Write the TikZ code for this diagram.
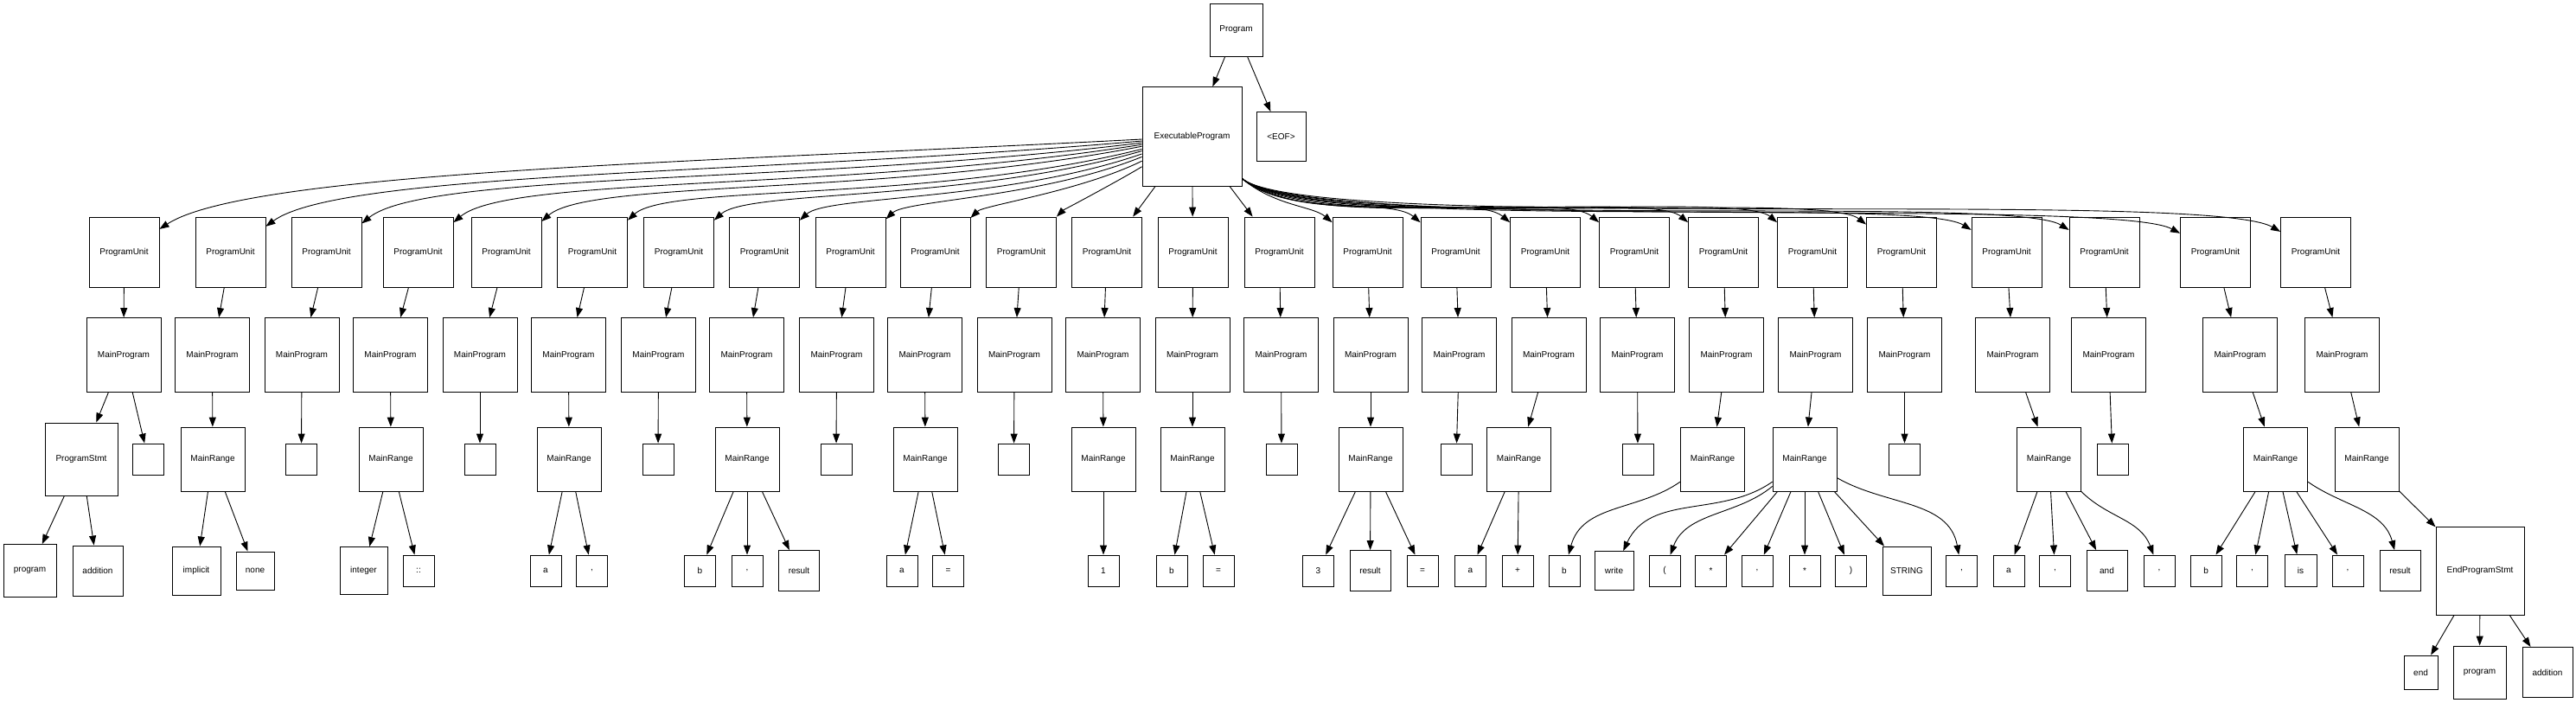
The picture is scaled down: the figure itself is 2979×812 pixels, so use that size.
\documentclass[tikz,border=0pt]{standalone}
\usepackage{fontspec}
\setmainfont{Liberation Sans}
\usetikzlibrary{arrows.meta}

\tikzset{
  tok/.style={draw, line width=0.9pt, minimum size=#1, inner sep=0pt, font=\fontsize{10}{12}\selectfont},
  tok/.default=36,
  edge/.style={line width=0.9pt, -{Triangle[length=11pt,width=8pt]}}
}

\begin{document}
\begin{tikzpicture}[x=1pt, y=1pt]
\useasboundingbox (0,0) rectangle (2979,-812);

\node[tok=61] (prog) at (1429.5,-34.5) {Program};
\node[tok=115] (exec) at (1378.5,-158) {ExecutableProgram};
\node[tok=57] (eof) at (1481.5,-158) {<EOF>};
\draw[edge] (prog) -- (exec);
\draw[edge] (prog) -- (eof);

\foreach \i/\u/\m in {1/143.5/143, 2/266.5/245.5, 3/377.5/349, 4/483.5/451.5, 5/585.5/555, 6/685/657.5, 7/785/761.5, 8/884/863.5, 9/983.5/967.5, 10/1081.5/1069.5, 11/1181/1173, 12/1280/1275.5, 13/1379.5/1379, 14/1479.5/1481.5, 15/1581.5/1585, 16/1683.5/1687.5, 17/1787/1791, 18/1890/1893.5, 19/1993/1996.5, 20/2096/2099.5, 21/2199/2202.5, 22/2320.5/2327.5, 23/2433.5/2438.5, 24/2562/2590.5, 25/2678/2708.5}{
  \node[tok=81] (unit\i) at (\u,-291.5) {ProgramUnit};
  \node[tok=86] (main\i) at (\m,-410.5) {MainProgram};
  \draw[edge] (unit\i) -- (main\i);
}

\foreach \i/\o/\n/\d/\e in {1/183/33/557/172, 2/185/36/503/159, 3/187/39/454/148, 4/189/40/408/138, 5/191/41/363/128, 6/194/42/319/118, 7/196/42/275/108, 8/199/42/231/98, 9/202/43/188/88, 10/206/44/145/78, 11/211/45/101/68}{
  \draw[edge] (exec) .. controls +(\o:\d) and +(\n:\e) .. (unit\i);
}
\foreach \i in {12,13,14}{
  \draw[edge] (exec) -- (unit\i);
}
\foreach \i/\n/\d/\e in {15/140/125/83, 16/140/145/98, 17/140/165/108, 18/140/175/113, 19/140/175/113, 20/140/175/113, 21/142/175/118, 22/148/175/123, 23/148/175/128, 24/152/175/138, 25/150/175/148}{
  \draw[edge] (exec) .. controls +(-40:\d) and +(\n:\e) .. (unit\i);
}

\node[tok=84] (stmt) at (94,-531) {ProgramStmt};
\draw[edge] (main1) -- (stmt);
\foreach \i/\x in {2/246, 4/452, 6/658, 8/864, 10/1070, 12/1276, 13/1379, 15/1585, 17/1756.5, 19/1980.5, 20/2087, 22/2369.5, 24/2631.5, 25/2737}{
  \node[tok=74] (range\i) at (\x,-531) {MainRange};
  \draw[edge] (main\i) -- (range\i);
}
\foreach \i/\x in {1/171.5, 3/348.5, 5/555, 7/761, 9/967, 11/1172.5, 14/1482, 16/1684, 18/1894, 21/2202.5, 23/2443}{
  \node[tok] (empty\i) at (\x,-531) {};
  \draw[edge] (main\i) -- (empty\i);
}

\foreach \p/\k/\x/\s/\t in {stmt/a/34.5/61/program, stmt/b/113/58/addition, range2/a/227/56/implicit, range2/b/295/44/none, range4/a/420.5/55/integer, range4/b/484/36/::, range6/a/631/36/a, range6/b/684.5/36/{,}, range8/a/809.5/36/b, range8/b/864/36/{,}, range8/c/924/47/result, range10/a/1043/36/a, range10/b/1096.5/36/=, range12/a/1276/36/1, range13/a/1355/36/b, range13/b/1409/36/=, range15/a/1524.5/36/3, range15/b/1584.5/47/result, range15/c/1645/36/=, range17/a/1700.5/36/a, range17/b/1755/36/+, range20/c/1978.5/36/*, range20/d/2032/36/{,}, range20/e/2087/36/*, range20/f/2140.5/36/), range20/g/2205/56/STRING, range22/a/2323/36/a, range22/b/2376.5/36/{,}, range22/c/2436.5/47/and, range24/a/2551/36/b, range24/b/2604.5/36/{,}, range24/c/2660.5/37/is, range24/d/2715/36/{,}}{
  \node[tok=\s] (\p\k) at (\x,-660) {\t};
  \draw[edge] (\p) -- (\p\k);
}

\node[tok] (range19a) at (1809,-660) {b};
\node[tok=45] (range20a) at (1866.5,-660) {write};
\node[tok] (range20b) at (1925,-660) {(};
\node[tok] (range20h) at (2268.5,-660) {,};
\node[tok] (range22d) at (2497,-660) {,};
\node[tok=47] (range24e) at (2775.5,-660) {result};
\draw[edge] (range19) .. controls +(215:105) and +(75:80) .. (range19a);
\draw[edge] (range20) .. controls +(215:119) and +(65:99) .. (range20a);
\draw[edge] (range20) .. controls +(220:101) and +(70:72) .. (range20b);
\draw[edge] (range20) .. controls +(-30:108) and +(100:83) .. (range20h);
\draw[edge] (range22) .. controls +(-45:96) and +(110:63) .. (range22d);
\draw[edge] (range24) .. controls +(-35:94) and +(105:73) .. (range24e);

\node[tok=102] (endstmt) at (2868,-660) {EndProgramStmt};
\draw[edge] (range25) -- (endstmt);
\foreach \k/\x/\s/\t in {a/2799.5/39/end, b/2867.5/61/program, c/2946/58/addition}{
  \node[tok=\s] (endstmt\k) at (\x,-777.5) {\t};
  \draw[edge] (endstmt) -- (endstmt\k);
}
\end{tikzpicture}
\end{document}
